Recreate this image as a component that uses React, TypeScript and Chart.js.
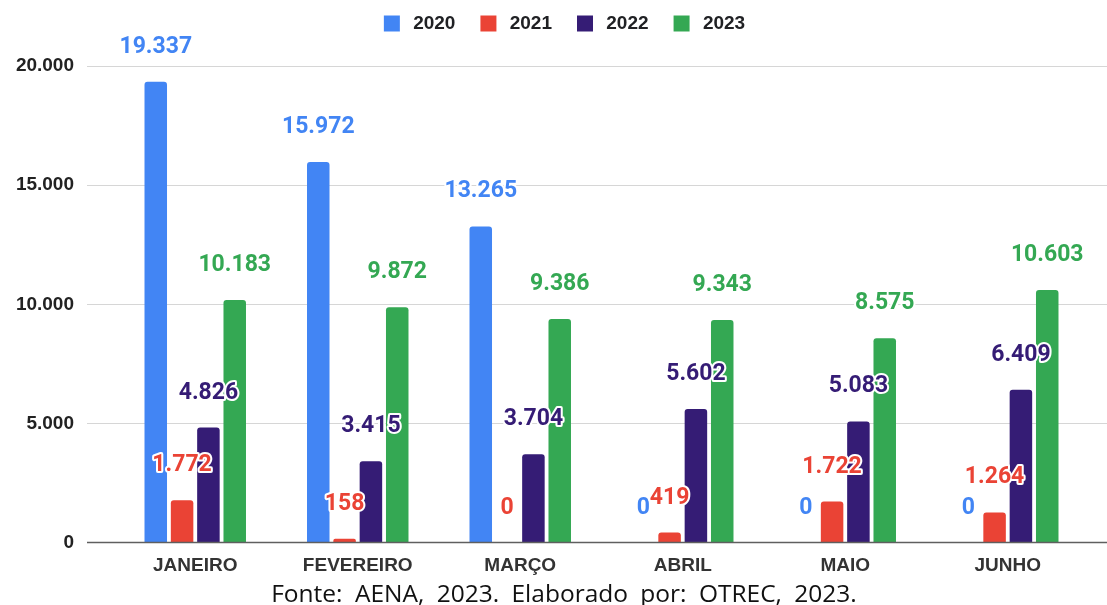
import React, { useEffect, useRef } from "react";
import { Chart, registerables } from "chart.js";

Chart.register(...registerables);

const categories = ["JANEIRO", "FEVEREIRO", "MARÇO", "ABRIL", "MAIO", "JUNHO"];
const seriesNames = ["2020", "2021", "2022", "2023"];
const values2020 = [19337, 15972, 13265, 0, 0, 0];
const values2021 = [1772, 158, 0, 419, 1722, 1264];
const values2022 = [4826, 3415, 3704, 5602, 5083, 6409];
const values2023 = [10183, 9872, 9386, 9343, 8575, 10603];
const yTicks = [0, 5000, 10000, 15000, 20000];
const seriesColors = ["#4285F4", "#EA4335", "#351C75", "#34A853"];
const footerText = "Fonte: AENA, 2023. Elaborado por: OTREC, 2023.";

const fmt = (v: number) => String(v).replace(/\B(?=(\d{3})+(?!\d))/g, ".");

const gridPlugin = {
  id: "extGrid",
  afterLayout(chart: any) {
    const lg = chart.legend;
    if (lg) {
      lg.left += 20;
      lg.right += 20;
      lg.top -= 23;
      lg.bottom -= 23;
    }
  },
  beforeDatasetsDraw(chart: any) {
    const { ctx, chartArea } = chart;
    const y = chart.scales.y;
    ctx.save();
    for (const t of yTicks) {
      if (t === 0) continue;
      const py = Math.round(y.getPixelForValue(t)) + 0.5;
      ctx.strokeStyle = "#d6d6d6";
      ctx.lineWidth = 1;
      ctx.beginPath();
      ctx.moveTo(chartArea.left - 27, py);
      ctx.lineTo(chart.width, py);
      ctx.stroke();
    }
    ctx.restore();
  },
  afterDatasetsDraw(chart: any) {
    const { ctx, chartArea } = chart;
    const y = chart.scales.y;
    ctx.save();
    const py = y.getPixelForValue(0);
    ctx.strokeStyle = "#5f5f5f";
    ctx.lineWidth = 1.5;
    ctx.beginPath();
    ctx.moveTo(chartArea.left - 27, py);
    ctx.lineTo(chart.width, py);
    ctx.stroke();

    ctx.font = "bold 23px Roboto";
    ctx.textAlign = "center";
    ctx.textBaseline = "alphabetic";
    ctx.lineJoin = "round";
    chart.data.datasets.forEach((ds: any, i: number) => {
      const meta = chart.getDatasetMeta(i);
      meta.data.forEach((bar: any, j: number) => {
        const text = fmt(ds.data[j]);
        const ty = bar.y - 29;
        ctx.lineWidth = 4;
        ctx.strokeStyle = "#ffffff";
        ctx.strokeText(text, bar.x, ty);
        ctx.fillStyle = seriesColors[i];
        ctx.fillText(text, bar.x, ty);
      });
    });
    ctx.restore();
  },
};

export default function App() {
  const canvasRef = useRef<HTMLCanvasElement | null>(null);

  useEffect(() => {
    if (!canvasRef.current) return;
    const allValues = [values2020, values2021, values2022, values2023];
    const chart = new Chart(canvasRef.current, {
      type: "bar",
      data: {
        labels: categories,
        datasets: seriesNames.map((name, i) => ({
          label: name,
          data: allValues[i],
          backgroundColor: seriesColors[i],
          borderWidth: 0,
          borderRadius: 3,
          categoryPercentage: 0.648,
          barPercentage: 0.855,
        })),
      },
      options: {
        animation: false,
        responsive: true,
        maintainAspectRatio: false,
        layout: { padding: { left: 0, right: 18, top: 31, bottom: 1 } },
        plugins: {
          tooltip: { enabled: false },
          legend: {
            position: "top",
            align: "center",
            labels: {
              boxWidth: 16,
              boxHeight: 16,
              padding: 6,
              color: "#202124",
              font: { family: "'Liberation Sans', Arial, sans-serif", size: 19, weight: "bold" },
              generateLabels: (ch: any) => {
                const base = Chart.defaults.plugins.legend.labels.generateLabels(ch);
                return base.map((it: any, idx: number) => ({
                  ...it,
                  text: "\u2009" + it.text + (idx < base.length - 1 ? "\u2003" : ""),
                  lineWidth: 0,
                }));
              },
            },
          },
        },
        scales: {
          x: {
            grid: { display: false, drawTicks: false },
            border: { display: false },
            ticks: {
              padding: 12,
              color: "#333333",
              autoSkip: false,
              maxRotation: 0,
              font: { family: "'Liberation Sans', Arial, sans-serif", size: 19, weight: "bold" },
            },
          },
          y: {
            min: 0,
            max: 20000,
            afterFit: (scale: any) => {
              scale.width = 114;
            },
            afterBuildTicks: (scale: any) => {
              scale.ticks = yTicks.map((v) => ({ value: v }));
            },
            grid: { display: false, drawTicks: false },
            border: { display: false },
            ticks: {
              padding: 40,
              color: "#222222",
              callback: (v: any) => fmt(Number(v)),
              font: { family: "'Liberation Sans', Arial, sans-serif", size: 19, weight: "bold" },
            },
          },
        },
      },
      plugins: [gridPlugin],
    });
    return () => chart.destroy();
  }, []);

  return (
    <div style={{ position: "absolute", left: 0, top: 0, width: 1107, height: 605, background: "#fff", overflow: "hidden" }}>
      <div style={{ position: "absolute", left: 0, top: 0, width: 1107, height: 594 }}>
        <canvas ref={canvasRef} />
      </div>
      <div
        style={{
          position: "absolute",
          top: 576,
          left: 564,
          transform: "translateX(-50%)",
          whiteSpace: "nowrap",
          fontFamily: "'Open Sans', sans-serif",
          fontSize: 24.5,
          wordSpacing: 6,
          color: "#111",
        }}
      >
        {footerText}
      </div>
    </div>
  );
}
